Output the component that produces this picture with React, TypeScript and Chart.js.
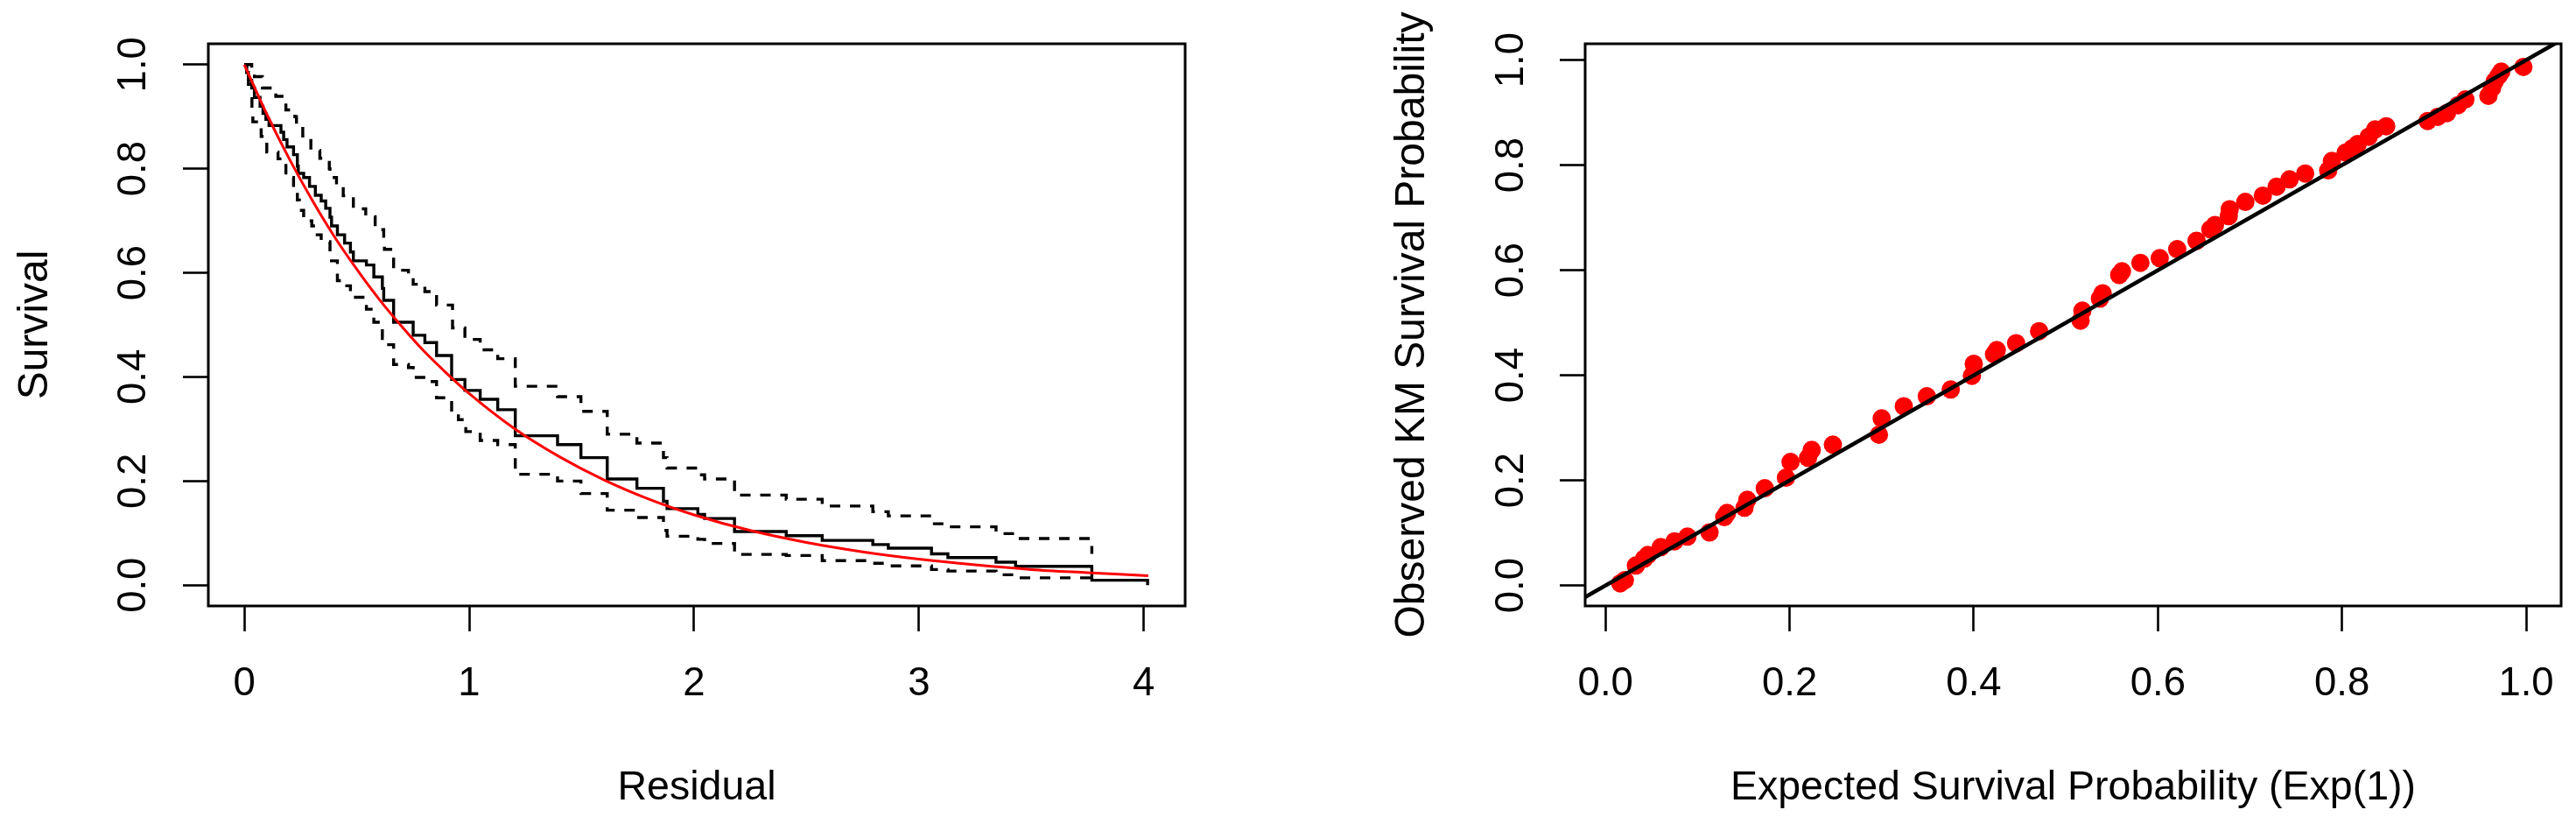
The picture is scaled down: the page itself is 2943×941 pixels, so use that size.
import React, { useEffect, useRef } from "react";
import { Chart, registerables } from "chart.js";

Chart.register(...registerables);

// ---------------- Left panel: KM curve of residuals ----------------
const kmTime = [0, 0.01, 0.018, 0.033, 0.045, 0.07, 0.083, 0.096, 0.11, 0.163, 0.175, 0.19, 0.219, 0.236, 0.24, 0.264, 0.29, 0.316, 0.342, 0.362, 0.381, 0.388, 0.414, 0.446, 0.472, 0.485, 0.543, 0.576, 0.614, 0.62, 0.664, 0.751, 0.803, 0.855, 0.922, 0.981, 1.049, 1.127, 1.205, 1.393, 1.497, 1.614, 1.746, 1.864, 1.88, 2.017, 2.047, 2.18, 2.41, 2.57, 2.795, 2.864, 3.056, 3.129, 3.343, 3.43, 3.769, 4.017];
const kmSurv = [1.0, 0.985, 0.97, 0.955, 0.937, 0.92, 0.906, 0.895, 0.883, 0.87, 0.856, 0.842, 0.827, 0.805, 0.791, 0.783, 0.766, 0.749, 0.738, 0.724, 0.707, 0.69, 0.673, 0.657, 0.64, 0.623, 0.615, 0.592, 0.57, 0.547, 0.505, 0.48, 0.466, 0.441, 0.395, 0.374, 0.357, 0.337, 0.287, 0.27, 0.245, 0.204, 0.186, 0.161, 0.147, 0.136, 0.128, 0.103, 0.095, 0.086, 0.078, 0.071, 0.06, 0.053, 0.044, 0.036, 0.0095, 0.0];

const upperTime = [0, 0.033, 0.045, 0.08, 0.14, 0.185, 0.225, 0.232, 0.26, 0.296, 0.336, 0.378, 0.381, 0.41, 0.44, 0.485, 0.54, 0.582, 0.62, 0.623, 0.66, 0.664, 0.73, 0.751, 0.803, 0.855, 0.926, 0.981, 1.049, 1.127, 1.205, 1.393, 1.497, 1.614, 1.746, 1.864, 1.88, 2.017, 2.047, 2.18, 2.41, 2.57, 2.795, 2.864, 3.056, 3.129, 3.343, 3.43, 3.769];
const upperSurv = [1.0, 0.987, 0.977, 0.955, 0.939, 0.913, 0.9, 0.886, 0.863, 0.835, 0.82, 0.8, 0.783, 0.768, 0.748, 0.723, 0.708, 0.683, 0.66, 0.645, 0.635, 0.605, 0.597, 0.578, 0.564, 0.538, 0.494, 0.472, 0.452, 0.435, 0.382, 0.362, 0.334, 0.29, 0.273, 0.245, 0.225, 0.212, 0.204, 0.173, 0.165, 0.152, 0.141, 0.133, 0.118, 0.112, 0.099, 0.0896, 0.06];

const lowerTime = [0, 0.01, 0.018, 0.034, 0.038, 0.075, 0.1, 0.15, 0.185, 0.219, 0.236, 0.245, 0.264, 0.3, 0.316, 0.342, 0.381, 0.414, 0.446, 0.472, 0.543, 0.576, 0.614, 0.634, 0.664, 0.73, 0.751, 0.822, 0.855, 0.922, 0.952, 0.985, 1.049, 1.127, 1.205, 1.393, 1.497, 1.614, 1.746, 1.864, 1.88, 2.017, 2.047, 2.18, 2.41, 2.57, 2.795, 2.864, 3.056, 3.129, 3.343, 3.43, 3.769];
const lowerSurv = [1.0, 0.975, 0.962, 0.911, 0.89, 0.862, 0.832, 0.819, 0.783, 0.763, 0.74, 0.72, 0.7, 0.69, 0.673, 0.66, 0.623, 0.585, 0.575, 0.553, 0.53, 0.505, 0.474, 0.462, 0.424, 0.418, 0.399, 0.391, 0.36, 0.33, 0.318, 0.295, 0.278, 0.27, 0.213, 0.2, 0.176, 0.144, 0.13, 0.105, 0.094, 0.088, 0.08, 0.059, 0.057, 0.047, 0.042, 0.037, 0.03, 0.027, 0.02, 0.014, 0.012];

const expCurveX = [0, 0.1, 0.2, 0.3, 0.4, 0.5, 0.6, 0.7, 0.8, 0.9, 1.0, 1.2, 1.4, 1.6, 1.8, 2.0, 2.25, 2.5, 2.75, 3.0, 3.25, 3.5, 3.75, 4.02];
const expCurveY = [1.0, 0.905, 0.819, 0.741, 0.67, 0.607, 0.549, 0.497, 0.449, 0.407, 0.368, 0.301, 0.247, 0.202, 0.165, 0.135, 0.105, 0.082, 0.064, 0.05, 0.039, 0.03, 0.024, 0.018];

const residualTickValues = [0, 1, 2, 3, 4];
const residualTickLabels = ["0", "1", "2", "3", "4"];
const probTickValues = [0, 0.2, 0.4, 0.6, 0.8, 1.0];
const probTickLabels = ["0.0", "0.2", "0.4", "0.6", "0.8", "1.0"];

// ---------------- Right panel: observed vs expected ----------------
const expectedSurv = [0.016, 0.021, 0.033, 0.042, 0.046, 0.06, 0.075, 0.089, 0.113, 0.129, 0.132, 0.151, 0.154, 0.173, 0.196, 0.201, 0.22, 0.224, 0.247, 0.297, 0.3, 0.324, 0.349, 0.375, 0.398, 0.4, 0.422, 0.425, 0.446, 0.471, 0.516, 0.518, 0.537, 0.54, 0.558, 0.561, 0.581, 0.602, 0.621, 0.642, 0.657, 0.662, 0.677, 0.678, 0.695, 0.714, 0.729, 0.743, 0.76, 0.785, 0.789, 0.804, 0.811, 0.817, 0.829, 0.836, 0.848, 0.893, 0.904, 0.914, 0.926, 0.934, 0.959, 0.963, 0.966, 0.97, 0.973, 0.997];
const observedSurv = [0.004, 0.01, 0.038, 0.051, 0.058, 0.073, 0.084, 0.093, 0.101, 0.13, 0.138, 0.148, 0.163, 0.185, 0.205, 0.235, 0.243, 0.258, 0.268, 0.287, 0.318, 0.341, 0.36, 0.373, 0.399, 0.422, 0.44, 0.448, 0.461, 0.484, 0.504, 0.523, 0.546, 0.556, 0.591, 0.598, 0.614, 0.623, 0.64, 0.656, 0.678, 0.686, 0.703, 0.716, 0.73, 0.742, 0.759, 0.773, 0.784, 0.79, 0.808, 0.824, 0.832, 0.84, 0.854, 0.868, 0.874, 0.884, 0.892, 0.899, 0.914, 0.925, 0.932, 0.947, 0.96, 0.97, 0.978, 0.987];
const refLineX = [-0.1, 1.1];
const refLineY = [-0.1, 1.1];

const FONT = "'Liberation Sans', Arial, Helvetica, sans-serif";

const framePlugin = {
  id: "rframe",
  afterDatasetsDraw(chart: any) {
    const { ctx, chartArea: a } = chart;
    ctx.save();
    ctx.strokeStyle = "#000";
    ctx.lineWidth = 3;
    ctx.strokeRect(a.left, a.top, a.right - a.left, a.bottom - a.top);
    ctx.restore();
  },
};

function makeAxis(o: any) {
  const isX = o.isX;
  return {
    type: "linear",
    position: isX ? "bottom" : "left",
    min: o.min,
    max: o.max,
    afterBuildTicks: (s: any) => {
      s.ticks = o.tickValues.map((v: number) => ({ value: v }));
    },
    afterFit: (s: any) => {
      if (isX) s.height = o.size;
      else s.width = o.size;
      s.paddingLeft = 0;
      s.paddingRight = 0;
      s.paddingTop = 0;
      s.paddingBottom = 0;
    },
    grid: {
      display: true,
      drawOnChartArea: false,
      drawTicks: true,
      tickLength: 29,
      tickWidth: 2.6,
      tickColor: "#000",
    },
    border: { display: false },
    ticks: {
      autoSkip: false,
      padding: o.tickPad,
      color: "#000",
      font: { family: FONT, size: 45.5 },
      callback: (_v: any, i: number) => o.tickLabels[i],
      ...(isX
        ? { minRotation: 0, maxRotation: 0 }
        : { minRotation: 90, maxRotation: 90, crossAlign: "center" }),
    },
    title: {
      display: true,
      text: o.title,
      color: "#000",
      font: { family: FONT, size: isX ? 46.5 : 48 },
      padding: isX ? { top: 0, bottom: o.titlePad } : { top: o.titlePad, bottom: 0 },
    },
  };
}

const pts = (xs: number[], ys: number[]) => xs.map((x, i) => ({ x, y: ys[i] }));

export default function App() {
  const leftRef = useRef<HTMLCanvasElement>(null);
  const rightRef = useRef<HTMLCanvasElement>(null);

  useEffect(() => {
    document.body.style.margin = "0";
    const charts: any[] = [];

    if (leftRef.current) {
      charts.push(
        new Chart(leftRef.current, {
          type: "scatter",
          data: {
            datasets: [
              {
                label: "Exp(1)",
                data: pts(expCurveX, expCurveY),
                showLine: true,
                borderColor: "#ff0000",
                borderWidth: 3,
                pointRadius: 0,
                cubicInterpolationMode: "monotone",
              },
              {
                label: "KM",
                data: pts(kmTime, kmSurv),
                showLine: true,
                stepped: "before",
                borderColor: "#000",
                borderWidth: 3.4,
                pointRadius: 0,
                borderJoinStyle: "miter",
              },
              {
                label: "Upper",
                data: pts(upperTime, upperSurv),
                showLine: true,
                stepped: "before",
                borderColor: "#000",
                borderWidth: 3.4,
                borderDash: [12, 11],
                pointRadius: 0,
              },
              {
                label: "Lower",
                data: pts(lowerTime, lowerSurv),
                showLine: true,
                stepped: "before",
                borderColor: "#000",
                borderWidth: 3.4,
                borderDash: [12, 11],
                pointRadius: 0,
              },
            ],
          },
          options: {
            animation: false,
            responsive: false,
            devicePixelRatio: 1,
            layout: { padding: { left: 0, top: 50, right: 118, bottom: 0 } },
            plugins: { legend: { display: false }, tooltip: { enabled: false } },
            scales: {
              x: makeAxis({
                isX: true, min: -0.16, max: 4.184, tickValues: residualTickValues,
                tickLabels: residualTickLabels, title: "Residual", size: 249, tickPad: 32.7, titlePad: 13,
              }),
              y: makeAxis({
                isX: false, min: -0.04, max: 1.04, tickValues: probTickValues,
                tickLabels: probTickLabels, title: "Survival", size: 238, tickPad: 24.4, titlePad: 11.5,
              }),
            },
          } as any,
          plugins: [framePlugin],
        } as any)
      );
    }

    if (rightRef.current) {
      charts.push(
        new Chart(rightRef.current, {
          type: "scatter",
          data: {
            datasets: [
              {
                label: "y = x",
                data: pts(refLineX, refLineY),
                showLine: true,
                borderColor: "#000",
                borderWidth: 4.5,
                pointRadius: 0,
                clip: 0,
              },
              {
                label: "Observed vs expected",
                data: pts(expectedSurv, observedSurv),
                showLine: false,
                pointRadius: 10.5,
                pointBorderWidth: 0,
                pointBackgroundColor: "#ff0000",
                pointBorderColor: "#ff0000",
              },
            ],
          },
          options: {
            animation: false,
            responsive: false,
            devicePixelRatio: 1,
            layout: { padding: { left: 0, top: 50, right: 17, bottom: 0 } },
            plugins: { legend: { display: false }, tooltip: { enabled: false } },
            scales: {
              x: makeAxis({
                isX: true, min: -0.0221, max: 1.038, tickValues: probTickValues,
                tickLabels: probTickLabels, title: "Expected Survival Probability (Exp(1))",
                size: 249, tickPad: 32.7, titlePad: 13,
              }),
              y: makeAxis({
                isX: false, min: -0.039, max: 1.031, tickValues: probTickValues,
                tickLabels: probTickLabels, title: "Observed KM Survival Probability",
                size: 339, tickPad: 23.4, titlePad: 113.2,
              }),
            },
          } as any,
          plugins: [framePlugin],
        } as any)
      );
    }

    return () => {
      charts.forEach((c) => c.destroy());
    };
  }, []);

  return (
    <div style={{ position: "fixed", left: 0, top: 0, width: 2943, height: 941, background: "#fff", overflow: "hidden" }}>
      <canvas
        ref={leftRef}
        width={1472}
        height={941}
        style={{ position: "absolute", left: 0, top: 0, width: 1472, height: 941 }}
      />
      <canvas
        ref={rightRef}
        width={1471}
        height={941}
        style={{ position: "absolute", left: 1472, top: 0, width: 1471, height: 941 }}
      />
    </div>
  );
}
